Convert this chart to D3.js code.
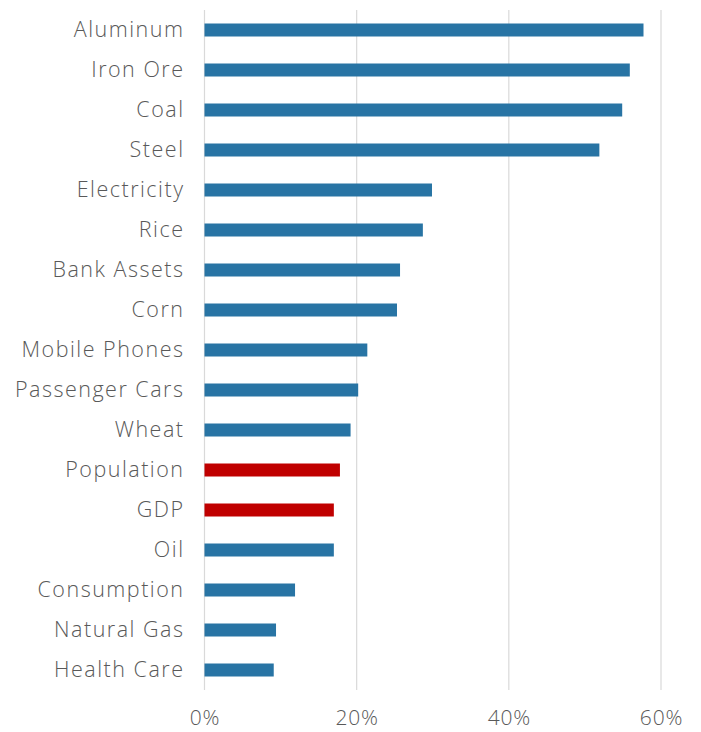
<!DOCTYPE html>
<html>
<head>
<meta charset="utf-8">
<script src="https://cdn.jsdelivr.net/npm/d3@7"></script>
<style>
  html, body { margin: 0; padding: 0; background: #fff; }
  svg { display: block; }
  text { font-family: "Open Sans", Lato, sans-serif; font-weight: 300; fill: #595959; }
</style>
</head>
<body>
<svg id="chart" width="701" height="732"></svg>
<script>
// China's share of world totals, by category (percent)
const categories = [
  "Aluminum", "Iron Ore", "Coal", "Steel", "Electricity", "Rice",
  "Bank Assets", "Corn", "Mobile Phones", "Passenger Cars", "Wheat",
  "Population", "GDP", "Oil", "Consumption", "Natural Gas", "Health Care"
];
const shares = [57.7, 55.9, 54.9, 51.9, 29.9, 28.7, 25.7, 25.3, 21.4, 20.2, 19.2, 17.8, 17.0, 17.0, 11.9, 9.4, 9.1];
const highlighted = ["Population", "GDP"];
const xTicks = [0, 20, 40, 60];

const svg = d3.select("#chart");
const plotLeft = 204.5, plotRight = 661, plotTop = 10, plotBottom = 690;
const labelFont = "'Open Sans', Lato, sans-serif";

const x = d3.scaleLinear().domain([0, 60]).range([plotLeft, plotRight]);
const y = d3.scaleBand().domain(categories).range([plotTop, plotBottom]).paddingInner(0.675).paddingOuter(0.3375);

// vertical gridlines
svg.append("g")
  .selectAll("line")
  .data(xTicks)
  .join("line")
  .attr("x1", d => x(d)).attr("x2", d => x(d))
  .attr("y1", plotTop).attr("y2", plotBottom)
  .attr("stroke", "#d9d9d9")
  .attr("stroke-width", 1.2);

// bars
svg.append("g")
  .selectAll("rect")
  .data(categories)
  .join("rect")
  .attr("x", x(0))
  .attr("y", d => y(d))
  .attr("width", (d, i) => x(shares[i]) - x(0))
  .attr("height", y.bandwidth())
  .attr("fill", d => highlighted.includes(d) ? "#c00000" : "#2874a4");

// category labels
const yAxis = d3.axisLeft(y).tickSize(0).tickPadding(20);
svg.append("g")
  .attr("transform", `translate(${x(0)},0)`)
  .call(yAxis)
  .call(g => g.select(".domain").remove())
  .selectAll("text")
  .attr("font-size", 21.5)
  .attr("font-family", labelFont)
  .attr("font-weight", 300)
  .attr("letter-spacing", 1.5)
  .attr("fill", "#595959");

// value axis labels
const xAxis = d3.axisBottom(x).tickValues(xTicks).tickSize(0).tickPadding(20).tickFormat(d => d + "%");
svg.append("g")
  .attr("transform", `translate(0,${plotBottom})`)
  .call(xAxis)
  .call(g => g.select(".domain").remove())
  .selectAll("text")
  .attr("font-size", 21)
  .attr("font-family", labelFont)
  .attr("font-weight", 300)
  .attr("letter-spacing", 0.8)
  .attr("fill", "#595959");
</script>
</body>
</html>
